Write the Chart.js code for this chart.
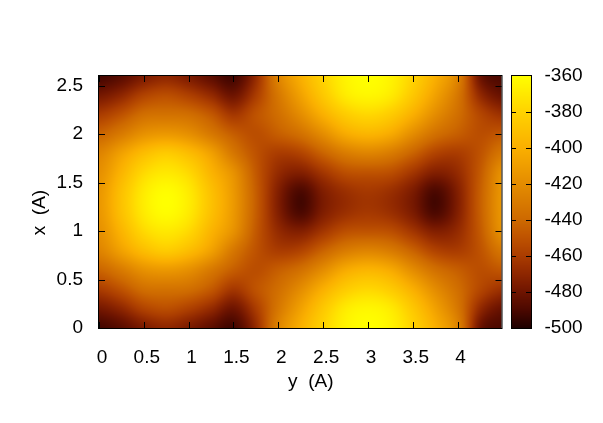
<!DOCTYPE html>
<html>
<head>
<meta charset="utf-8">
<title>Energy map</title>
<script src="https://cdn.jsdelivr.net/npm/chart.js@4"></script>
<style>
html, body { margin: 0; padding: 0; background: #fff; }
canvas { display: block; }
</style>
</head>
<body>
<canvas id="map" width="603" height="423"></canvas>
<script>
// grid positions (A)
var Y_GRID = [0, 0.25, 0.5, 0.75, 1, 1.25, 1.5, 1.75, 2, 2.25, 2.5, 2.75, 3, 3.25, 3.5, 3.75, 4, 4.25, 4.5];
var X_GRID = [0, 0.2, 0.4, 0.6, 0.8, 1, 1.2, 1.4, 1.6, 1.8, 2, 2.2, 2.4, 2.6];

// energy, one row per X_GRID entry
var E_00 = [-492, -486, -476, -470, -476, -485, -492, -468, -425, -400, -380, -365, -360, -365, -380, -400, -425, -480, -490];
var E_02 = [-478, -470, -457, -452, -458, -468, -480, -460, -432, -408, -386, -369, -364, -369, -386, -408, -432, -468, -482];
var E_04 = [-460, -450, -437, -435, -437, -447, -462, -450, -437, -420, -400, -384, -378, -384, -400, -420, -437, -455, -465];
var E_06 = [-442, -430, -417, -413, -418, -431, -445, -452, -445, -436, -420, -403, -397, -403, -420, -436, -445, -452, -448];
var E_08 = [-425, -408, -392, -384, -392, -408, -432, -450, -460, -457, -443, -430, -425, -430, -443, -457, -460, -450, -432];
var E_10 = [-418, -397, -377, -370, -377, -397, -417, -447, -468, -474, -463, -452, -450, -452, -463, -474, -468, -447, -417];
var E_12 = [-414, -390, -369, -361, -369, -390, -413, -445, -474, -490, -475, -466, -462, -466, -476, -490, -474, -445, -414];
var E_14 = [-414, -390, -369, -361, -369, -390, -413, -445, -474, -490, -475, -466, -462, -466, -476, -490, -474, -445, -414];
var E_16 = [-418, -397, -377, -370, -377, -397, -417, -447, -468, -474, -463, -452, -450, -452, -463, -474, -468, -447, -417];
var E_18 = [-425, -408, -392, -384, -392, -408, -432, -450, -460, -457, -443, -430, -425, -430, -443, -457, -460, -450, -432];
var E_20 = [-442, -430, -417, -413, -418, -431, -445, -452, -445, -436, -420, -403, -397, -403, -420, -436, -445, -452, -448];
var E_22 = [-460, -450, -437, -435, -437, -447, -462, -450, -437, -420, -400, -384, -378, -384, -400, -420, -437, -455, -465];
var E_24 = [-478, -470, -457, -452, -458, -468, -480, -460, -432, -408, -386, -369, -364, -369, -386, -408, -432, -468, -482];
var E_26 = [-492, -486, -476, -470, -476, -485, -492, -468, -425, -400, -380, -365, -360, -365, -380, -400, -425, -480, -490];
var E_ROWS = [E_00, E_02, E_04, E_06, E_08, E_10, E_12, E_14, E_16, E_18, E_20, E_22, E_24, E_26];

var Y_TICKS = [0, 0.5, 1, 1.5, 2, 2.5, 3, 3.5, 4];
var X_TICKS = [0, 0.5, 1, 1.5, 2, 2.5];
var CB_TICKS = [-500, -480, -460, -440, -420, -400, -380, -360];

// colour box palette, sampled from the bar
var PAL_E = [-500, -490, -480, -470, -460, -450, -440, -420, -400, -380, -360];
var PAL_R = [30, 75, 110, 142, 170, 190, 205, 228, 250, 255, 255];
var PAL_G = [0, 8, 20, 38, 60, 82, 105, 140, 175, 210, 255];

function colorFor(e) {
    var i = 0;
    if (e <= PAL_E[0]) return 'rgb(' + PAL_R[0] + ',' + PAL_G[0] + ',0)';
    while (i < PAL_E.length - 2 && e > PAL_E[i + 1]) i++;
    var t = Math.min(1, (e - PAL_E[i]) / (PAL_E[i + 1] - PAL_E[i]));
    var r = Math.round(PAL_R[i] + (PAL_R[i + 1] - PAL_R[i]) * t);
    var g = Math.round(PAL_G[i] + (PAL_G[i + 1] - PAL_G[i]) * t);
    return 'rgb(' + r + ',' + g + ',0)';
}

var points = [];
X_GRID.forEach(function (x, r) {
    Y_GRID.forEach(function (y, c) {
        points.push({ x: y, y: x, e: E_ROWS[r][c] });
    });
});

// smooth blend of four neighbours, used for shading only
function blend(a, b, c, d, t) {
    return b + 0.5 * t * (c - a + t * (2 * a - 5 * b + 4 * c - d + t * (3 * (b - c) + d - a)));
}

function cellOf(list, v) {
    var i = 0;
    while (i < list.length - 2 && v > list[i + 1]) i++;
    return i;
}

function shadeAt(yv, xv) {
    var c = cellOf(Y_GRID, yv), r = cellOf(X_GRID, xv);
    var u = (yv - Y_GRID[c]) / (Y_GRID[c + 1] - Y_GRID[c]);
    var v = (xv - X_GRID[r]) / (X_GRID[r + 1] - X_GRID[r]);
    var col = [];
    for (var k = -1; k <= 2; k++) {
        var row = E_ROWS[Math.max(0, Math.min(X_GRID.length - 1, r + k))];
        var c0 = Math.max(0, c - 1), c3 = Math.min(Y_GRID.length - 1, c + 2);
        col.push(blend(row[c0], row[c], row[c + 1], row[c3], u));
    }
    return blend(col[0], col[1], col[2], col[3], v);
}

// pm3d style shading between the grid points, then the box and inward ticks
var heatPlugin = {
    id: 'heat',
    beforeDatasetsDraw: function (chart) {
        var ctx = chart.ctx, sx = chart.scales.x, sy = chart.scales.y, area = chart.chartArea;
        ctx.save();
        ctx.beginPath();
        ctx.rect(area.left, area.top, area.right - area.left, area.bottom - area.top);
        ctx.clip();
        for (var py = Math.floor(area.top); py < area.bottom; py++) {
            var xv = sy.getValueForPixel(py + 0.5);
            for (var px = Math.floor(area.left); px < area.right; px++) {
                ctx.fillStyle = colorFor(shadeAt(sx.getValueForPixel(px + 0.5), xv));
                ctx.fillRect(px, py, 1, 1);
            }
        }
        ctx.restore();
    },
    afterDatasetsDraw: function (chart) {
        var ctx = chart.ctx, sx = chart.scales.x, sy = chart.scales.y, cb = chart.scales.cb, area = chart.chartArea;
        var i, p;
        ctx.save();
        ctx.strokeStyle = '#000';
        ctx.lineWidth = 1;
        ctx.beginPath();
        Y_TICKS.forEach(function (t) {
            p = Math.round(sx.getPixelForValue(t)) + 0.5;
            ctx.moveTo(p, area.bottom); ctx.lineTo(p, area.bottom - 6);
            ctx.moveTo(p, area.top); ctx.lineTo(p, area.top + 6);
        });
        X_TICKS.forEach(function (t) {
            p = Math.round(sy.getPixelForValue(t)) + 0.5;
            ctx.moveTo(area.left, p); ctx.lineTo(area.left + 6, p);
            ctx.moveTo(area.right, p); ctx.lineTo(area.right - 6, p);
        });
        ctx.stroke();
        ctx.strokeRect(area.left - 0.5, area.top - 0.5, area.right - area.left + 1, area.bottom - area.top + 1);

        // colour box
        var x0 = 511, x1 = 531;
        for (i = Math.round(area.top); i < area.bottom; i++) {
            ctx.fillStyle = colorFor(cb.getValueForPixel(i + 0.5));
            ctx.fillRect(x0, i, x1 - x0, 1);
        }
        ctx.beginPath();
        CB_TICKS.slice(1, -1).forEach(function (t) {
            p = Math.round(cb.getPixelForValue(t)) + 0.5;
            ctx.moveTo(x0, p); ctx.lineTo(x0 + 5, p);
            ctx.moveTo(x1, p); ctx.lineTo(x1 - 5, p);
        });
        ctx.stroke();
        ctx.strokeRect(x0 + 0.5, area.top - 0.5, x1 - x0, area.bottom - area.top + 1);
        ctx.restore();
    }
};

var FONT = { family: "'Liberation Sans', sans-serif", size: 19 };

function fitW(w) { return function (s) { s.width = w; }; }
function fixTicks(list) {
    return function (s) { s.ticks = list.map(function (v) { return { value: v }; }); };
}
function plain(v) { return String(v); }

new Chart(document.getElementById('map'), {
    type: 'scatter',
    data: { datasets: [{ data: points, pointRadius: 0, showLine: false }] },
    options: {
        responsive: false,
        animation: false,
        events: [],
        layout: { padding: { top: 76, left: 0, right: 0, bottom: 0 } },
        plugins: { legend: { display: false }, tooltip: { enabled: false } },
        color: '#000',
        scales: {
            x: {
                type: 'linear', min: 0, max: 4.49,
                afterFit: function (s) { s.height = 95; },
                afterBuildTicks: fixTicks(Y_TICKS),
                grid: { display: false, drawTicks: false },
                border: { display: false },
                ticks: { color: '#000', font: FONT, padding: 18, labelOffset: 3, maxRotation: 0, autoSkip: false, callback: plain },
                title: { display: true, text: '    y  (A)', color: '#000', font: FONT, padding: { top: 0, bottom: 30 } }
            },
            y: {
                type: 'linear', min: 0, max: 2.6,
                afterFit: fitW(99),
                afterBuildTicks: fixTicks(X_TICKS),
                grid: { display: false, drawTicks: false },
                border: { display: false },
                ticks: { color: '#000', font: FONT, padding: 16, autoSkip: false, callback: plain },
                title: { display: true, text: 'x  (A)    ', color: '#000', font: FONT, padding: { top: 28, bottom: 0 } }
            },
            cb: {
                type: 'linear', position: 'right', min: -500, max: -360,
                afterFit: fitW(101.5),
                afterBuildTicks: fixTicks(CB_TICKS),
                grid: { display: false, drawTicks: false },
                border: { display: false },
                ticks: { color: '#000', font: FONT, padding: 43, autoSkip: false, callback: plain }
            }
        }
    },
    plugins: [heatPlugin]
});
</script>
</body>
</html>
